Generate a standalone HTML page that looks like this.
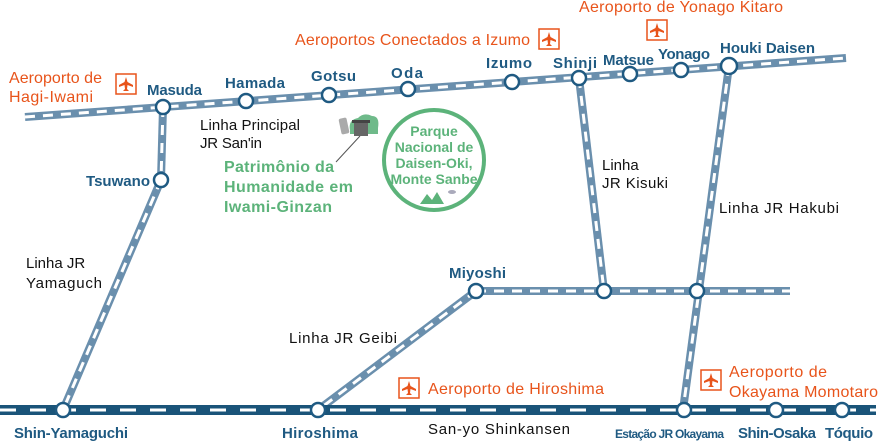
<!DOCTYPE html>
<html><head><meta charset="utf-8"><style>
body{margin:0;background:#fff}
svg{display:block}
text{font-family:"Liberation Sans",sans-serif}
.st{fill:#1f5a82;font-size:15px;font-weight:bold}
.or{fill:#e8541b;font-size:16px}
.bk{fill:#111;font-size:15px}
.gr{fill:#5cb37a;font-weight:bold}
</style></head><body>
<svg width="878" height="441" viewBox="0 0 878 441">
<defs>
<g id="plane"><rect x="-10" y="-10" width="20" height="20" fill="#fff" stroke="#e8541b" stroke-width="1.5"/><path d="M0,-7 L1.5,-2 L7,1 L7,3 L1.5,1 L1,5 L3,7 L-3,7 L-1,5 L-1.5,1 L-7,3 L-7,1 L-1.5,-2 Z" fill="#e8541b"/></g>
</defs>
<g fill="none" stroke-linecap="butt">
<g stroke="#6a8fad" stroke-width="8">
<line x1="25" y1="117" x2="846" y2="58"/>
<line x1="163" y1="107" x2="161" y2="180"/>
<line x1="161" y1="180" x2="63" y2="410"/>
<line x1="579" y1="78" x2="604" y2="291"/>
<line x1="729" y1="66" x2="683" y2="410"/>
<line x1="476" y1="291" x2="790" y2="291"/>
<line x1="476" y1="291" x2="318" y2="410"/>
</g>
<g stroke="#fff" stroke-width="3" stroke-dasharray="10 8">
<line x1="25" y1="117" x2="846" y2="58"/>
<line x1="163" y1="107" x2="161" y2="180"/>
<line x1="161" y1="180" x2="63" y2="410"/>
<line x1="579" y1="78" x2="604" y2="291"/>
<line x1="729" y1="66" x2="683" y2="410"/>
<line x1="476" y1="291" x2="790" y2="291"/>
<line x1="476" y1="291" x2="318" y2="410"/>
</g>
<line x1="0" y1="410" x2="876" y2="410" stroke="#1a5479" stroke-width="10"/>
<line x1="0" y1="410" x2="876" y2="410" stroke="#fff" stroke-width="3" stroke-dasharray="16 14"/>
</g>
<g fill="#fff" stroke="#1f5a82" stroke-width="2.5">
<circle cx="163" cy="107" r="7"/><circle cx="246" cy="101" r="7"/><circle cx="329" cy="95" r="7"/><circle cx="408" cy="89" r="7"/>
<circle cx="512" cy="82" r="7"/><circle cx="579" cy="78" r="7"/><circle cx="630" cy="74" r="7"/><circle cx="681" cy="70" r="7"/><circle cx="729" cy="66" r="8"/>
<circle cx="161" cy="180" r="7"/><circle cx="476" cy="291" r="7"/><circle cx="604" cy="291" r="7"/><circle cx="697" cy="291" r="7"/>
<circle cx="63" cy="410" r="7"/><circle cx="318" cy="410" r="7"/><circle cx="684" cy="410" r="7"/><circle cx="776" cy="410" r="7"/><circle cx="842" cy="410" r="7"/>
</g>
<g class="st">
<text x="147" y="95" textLength="55">Masuda</text><text x="225" y="88" textLength="60">Hamada</text><text x="311" y="81" textLength="45">Gotsu</text><text x="391" y="78" textLength="32">Oda</text>
<text x="486" y="68" textLength="46">Izumo</text><text x="553" y="68" textLength="44">Shinji</text><text x="603" y="65" textLength="51">Matsue</text><text x="658" y="59" textLength="52">Yonago</text><text x="720" y="53" textLength="95">Houki Daisen</text>
<text x="86" y="186" textLength="64">Tsuwano</text><text x="449" y="278" textLength="57">Miyoshi</text>
<text x="14" y="438" textLength="114">Shin-Yamaguchi</text><text x="282" y="438" textLength="76">Hiroshima</text><text x="615" y="438" font-size="12" textLength="109">Estação JR Okayama</text><text x="738" y="438" textLength="78">Shin-Osaka</text><text x="825" y="438" textLength="48">Tóquio</text>
</g>
<g class="or">
<text x="9" y="83" textLength="93">Aeroporto de</text><text x="9" y="102" textLength="84">Hagi-Iwami</text>
<text x="295" y="45" textLength="235">Aeroportos Conectados a Izumo</text>
<text x="579" y="12" textLength="204">Aeroporto de Yonago Kitaro</text>
<text x="428" y="394" textLength="176">Aeroporto de Hiroshima</text>
<text x="729" y="377" textLength="98">Aeroporto de</text><text x="729" y="397" textLength="149">Okayama Momotaro</text>
</g>
<use href="#plane" x="126" y="84"/><use href="#plane" x="549" y="39"/><use href="#plane" x="657" y="30"/><use href="#plane" x="409" y="388"/><use href="#plane" x="711" y="380"/>
<g class="bk"><text x="200" y="130" textLength="100">Linha Principal</text><text x="200" y="148" textLength="62">JR San'in</text>
<text x="602" y="170">Linha</text><text x="602" y="188" textLength="66">JR Kisuki</text>
<text x="719" y="213" textLength="120">Linha JR Hakubi</text>
<text x="26" y="268">Linha JR</text><text x="26" y="288" textLength="76">Yamaguch</text>
<text x="289" y="343" textLength="108">Linha JR Geibi</text>
<text x="428" y="434" textLength="142">San-yo Shinkansen</text></g>
<path d="M350,130 q-2,-10 8,-12 q6,-6 14,-2 q8,0 6,12 l0,6 l-28,0z" fill="#6fba8a"/>
<rect x="340" y="118" width="8" height="16" rx="2" fill="#aaa" transform="rotate(-12 344 126)"/>
<rect x="354" y="122" width="14" height="14" fill="#666"/><rect x="352" y="120" width="18" height="3" fill="#444"/>
<line x1="360" y1="136" x2="336" y2="162" stroke="#555" stroke-width="1"/>
<g class="gr" font-size="16"><text x="224" y="172" textLength="110">Patrimônio da</text><text x="224" y="192" textLength="129">Humanidade em</text><text x="224" y="212" textLength="108">Iwami-Ginzan</text></g>
<circle cx="434" cy="160" r="50" fill="#fff" stroke="#5cb37a" stroke-width="4"/>
<g class="gr" font-size="14" text-anchor="middle"><text x="434" y="136">Parque</text><text x="434" y="152">Nacional de</text><text x="434" y="168">Daisen-Oki,</text><text x="434" y="184">Monte Sanbe</text></g>
<path d="M420,204 l7,-10 l5,6 l5,-8 l7,12z" fill="#5cb37a"/><ellipse cx="452" cy="192" rx="4" ry="2" fill="#aab"/>
</svg>
</body></html>
